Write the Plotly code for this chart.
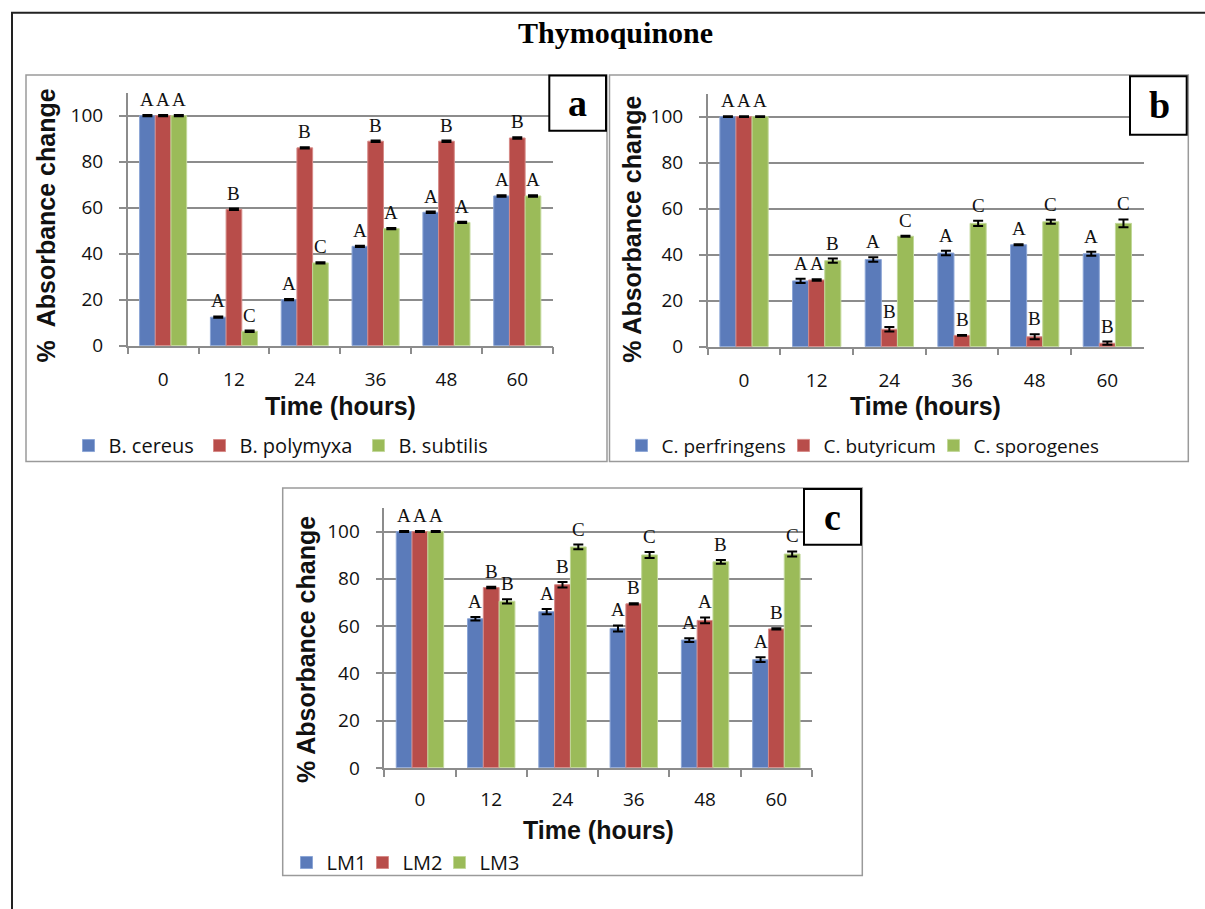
import plotly.graph_objects as go

W, H = 1205, 909

# ---------------- data ----------------
times = ["0", "12", "24", "36", "48", "60"]

a_names = ["B. cereus", "B. polymyxa", "B. subtilis"]
a_cereus = [100, 12.4, 20.0, 43.2, 58.0, 65.1]
a_polymyxa = [100, 59.3, 86.0, 88.9, 88.9, 90.3]
a_subtilis = [100, 6.3, 36.0, 50.9, 53.6, 65.1]
a_cereus_err = [0.3, 0.3, 0.3, 0.3, 0.3, 0.3]
a_polymyxa_err = [0.3, 0.3, 0.3, 0.3, 0.3, 0.3]
a_subtilis_err = [0.3, 0.3, 0.3, 0.3, 0.3, 0.3]
a_cereus_sig = ["A", "A", "A", "A", "A", "A"]
a_polymyxa_sig = ["A", "B", "B", "B", "B", "B"]
a_subtilis_sig = ["A", "C", "C", "A", "A", "A"]

b_names = ["C. perfringens", "C. butyricum", "C. sporogenes"]
b_perfringens = [100, 28.6, 37.9, 40.7, 44.3, 40.4]
b_butyricum = [100, 29.0, 7.6, 4.9, 4.3, 1.5]
b_sporogenes = [100, 37.4, 48.0, 53.6, 54.3, 53.6]
b_perfringens_err = [0.2, 0.9, 1.0, 1.0, 0.2, 0.9]
b_butyricum_err = [0.2, 0.3, 1.0, 0.2, 1.1, 0.7]
b_sporogenes_err = [0.2, 0.9, 0.2, 1.1, 0.9, 1.7]
b_perfringens_sig = ["A", "A", "A", "A", "A", "A"]
b_butyricum_sig = ["A", "A", "B", "B", "B", "B"]
b_sporogenes_sig = ["A", "B", "C", "C", "C", "C"]

c_names = ["LM1", "LM2", "LM3"]
c_lm1 = [100, 63.1, 66.1, 59.0, 54.1, 45.8]
c_lm2 = [100, 76.3, 77.5, 69.4, 62.4, 58.8]
c_lm3 = [100, 70.5, 93.5, 90.1, 87.2, 90.5]
c_lm1_err = [0.2, 0.7, 1.1, 1.25, 0.8, 1.0]
c_lm2_err = [0.2, 0.3, 1.2, 0.3, 1.25, 0.3]
c_lm3_err = [0.2, 0.9, 1.0, 1.25, 0.8, 1.1]
c_lm1_sig = ["A", "A", "A", "A", "A", "A"]
c_lm2_sig = ["A", "B", "B", "B", "A", "B"]
c_lm3_sig = ["A", "B", "C", "C", "B", "C"]

y_ticks = [0, 20, 40, 60, 80, 100]

# ---------------- style ----------------
colors = ["#5B7BBA", "#B84D4A", "#9BBB59"]
edge_colors = ["#8CA6D6", "#D68A87", "#C2D89A"]
grid_col = "#8C8C8C"
BARGAP = 0.335
TICK_FONT = dict(family="Open Sans", size=19, color="#111111")
TITLE_FONT = dict(family="Liberation Sans", size=25, color="#111111")
SIG_FONT = dict(family="Liberation Serif", size=19, color="#111111")


def fx(px):
    return px / W


def fy(py):
    return 1 - py / H


panels = [
    dict(key="a", xa="x", ya="y", xdom=(127.7, 552.7), ydom=(94.0, 350.7),
         names=a_names, vals=[a_cereus, a_polymyxa, a_subtilis],
         errs=[a_cereus_err, a_polymyxa_err, a_subtilis_err],
         sigs=[a_cereus_sig, a_polymyxa_sig, a_subtilis_sig],
         legend="legend", legendwidths=[86, 114, 100], legpos=(68.5, 452), legsize=20,
         ytitle="%  Absorbance change", ytitle_pos=(45.8, 229), xtitle_y=412,
         xstand=16,
         box=(26, 76, 607, 468.3), lbox=(549.3, 76.7, 606, 132.7), lpos=(577.7, 105)),
    dict(key="b", xa="x2", ya="y2", xdom=(707.7, 1143.7), ydom=(95.0, 351.7),
         names=b_names, vals=[b_perfringens, b_butyricum, b_sporogenes],
         errs=[b_perfringens_err, b_butyricum_err, b_sporogenes_err],
         sigs=[b_perfringens_sig, b_butyricum_sig, b_sporogenes_sig],
         legend="legend2", legendwidths=[117, 105, 120], legpos=(621.5, 452), legsize=19,
         ytitle="% Absorbance change", ytitle_pos=(631.7, 232.5), xtitle_y=412,
         xstand=16,
         box=(609.5, 76, 1188.3, 468.3), lbox=(1130, 77.3, 1186.7, 136.7), lpos=(1159, 107)),
    dict(key="c", xa="x3", ya="y3", xdom=(384.3, 812.0), ydom=(515.3, 779.0),
         names=c_names, vals=[c_lm1, c_lm2, c_lm3],
         errs=[c_lm1_err, c_lm2_err, c_lm3_err],
         sigs=[c_lm1_sig, c_lm2_sig, c_lm3_sig],
         legend="legend3", legendwidths=[31, 32, 40], legpos=(286.5, 875), legsize=20,
         ytitle="% Absorbance change", ytitle_pos=(305.5, 659), xtitle_y=842,
         xstand=14,
         box=(282.7, 495, 862.3, 888.3), lbox=(804, 496, 861, 552.7), lpos=(832, 525)),
]

fig = go.Figure()
annotations = []
shapes = []
layout = dict(
    width=W, height=H, autosize=False,
    margin=dict(l=0, r=0, t=0, b=0),
    paper_bgcolor="white", plot_bgcolor="white",
    barmode="group", bargap=BARGAP, bargroupgap=0,
    showlegend=True,
)

# outer frame
shapes.append(dict(type="rect", xref="paper", yref="paper",
                   x0=fx(12), y0=fy(13), x1=fx(1220), y1=fy(925),
                   line=dict(color="#222222", width=2), layer="below"))

bar_w = (1 - BARGAP) / 3

for p in panels:
    xa, ya = p["xa"], p["ya"]
    xkey = "xaxis" + xa[1:]
    ykey = "yaxis" + ya[1:]
    for j in range(3):
        fig.add_trace(go.Bar(
            x=times, y=p["vals"][j], name=p["names"][j],
            xaxis=xa, yaxis=ya, legend=p["legend"],
            legendwidth=p["legendwidths"][j],
            marker=dict(color=colors[j], line=dict(color=edge_colors[j], width=1)),
            error_y=dict(type="data", array=p["errs"][j], visible=True,
                         color="black", thickness=2, width=5),
            hoverinfo="x+y+name",
        ))
        for i, t in enumerate(times):
            annotations.append(dict(
                x=i + (j - 1) * bar_w, y=p["vals"][j][i] + p["errs"][j][i],
                xref=xa, yref=ya, text=p["sigs"][j][i], showarrow=False,
                xanchor="center", yanchor="bottom", yshift=3, font=SIG_FONT))

    x0, x1 = p["xdom"]
    yt, yb = p["ydom"]
    layout[xkey] = dict(
        domain=[fx(x0), fx(x1)], anchor=ya, type="category",
        showline=True, linecolor=grid_col, linewidth=1.5,
        ticks="outside", tickson="boundaries", ticklen=7, tickwidth=1.5,
        tickcolor=grid_col, showgrid=False, zeroline=False,
        tickfont=TICK_FONT, ticklabelstandoff=p["xstand"], fixedrange=True)
    layout[ykey] = dict(
        domain=[fy(yb), fy(yt)], anchor=xa, range=[0, 110],
        tickvals=y_ticks, showline=True, linecolor=grid_col, linewidth=1.5,
        ticks="outside", ticklen=7, tickwidth=1.5, tickcolor=grid_col,
        showgrid=True, gridcolor=grid_col, gridwidth=1.5, zeroline=False,
        tickfont=TICK_FONT, ticklabelstandoff=12, fixedrange=True)

    lx, ly = p["legpos"]
    layout[p["legend"]] = dict(
        x=fx(lx), y=fy(ly), xanchor="left", yanchor="middle",
        orientation="h", bgcolor="rgba(0,0,0,0)", borderwidth=0,
        font=dict(family="Open Sans", size=p["legsize"], color="#111111"),
        itemclick=False, itemdoubleclick=False)

    # axis titles
    annotations.append(dict(
        x=fx((x0 + x1) / 2), y=fy(p["xtitle_y"]), xref="paper", yref="paper",
        text="<b>Time (hours)</b>", showarrow=False, xanchor="center",
        yanchor="middle", font=TITLE_FONT))
    tx, ty = p["ytitle_pos"]
    annotations.append(dict(
        x=fx(tx), y=fy(ty), xref="paper", yref="paper",
        text="<b>" + p["ytitle"] + "</b>", showarrow=False, textangle=-90,
        xanchor="center", yanchor="middle", font=TITLE_FONT))

    # panel frame
    bx0, by0, bx1, by1 = p["box"]
    shapes.append(dict(type="rect", xref="paper", yref="paper",
                       x0=fx(bx0), y0=fy(by0), x1=fx(bx1), y1=fy(by1),
                       line=dict(color="#9A9A9A", width=1.5), layer="below"))
    # panel letter box
    lx0, ly0, lx1, ly1 = p["lbox"]
    shapes.append(dict(type="rect", xref="paper", yref="paper",
                       x0=fx(lx0), y0=fy(ly0), x1=fx(lx1), y1=fy(ly1),
                       line=dict(color="black", width=2), fillcolor="white",
                       layer="above"))
    px_, py_ = p["lpos"]
    annotations.append(dict(
        x=fx(px_), y=fy(py_), xref="paper", yref="paper",
        text="<b>" + p["key"] + "</b>", showarrow=False,
        xanchor="center", yanchor="middle",
        font=dict(family="Liberation Serif", size=38, color="black")))

annotations.append(dict(
    x=fx(615), y=fy(33), xref="paper", yref="paper",
    text="<b>Thymoquinone</b>", showarrow=False, xanchor="center",
    yanchor="middle", font=dict(family="Liberation Serif", size=30, color="black")))

layout["annotations"] = annotations
layout["shapes"] = shapes
fig.update_layout(**layout)

fig.write_html("out.html")
